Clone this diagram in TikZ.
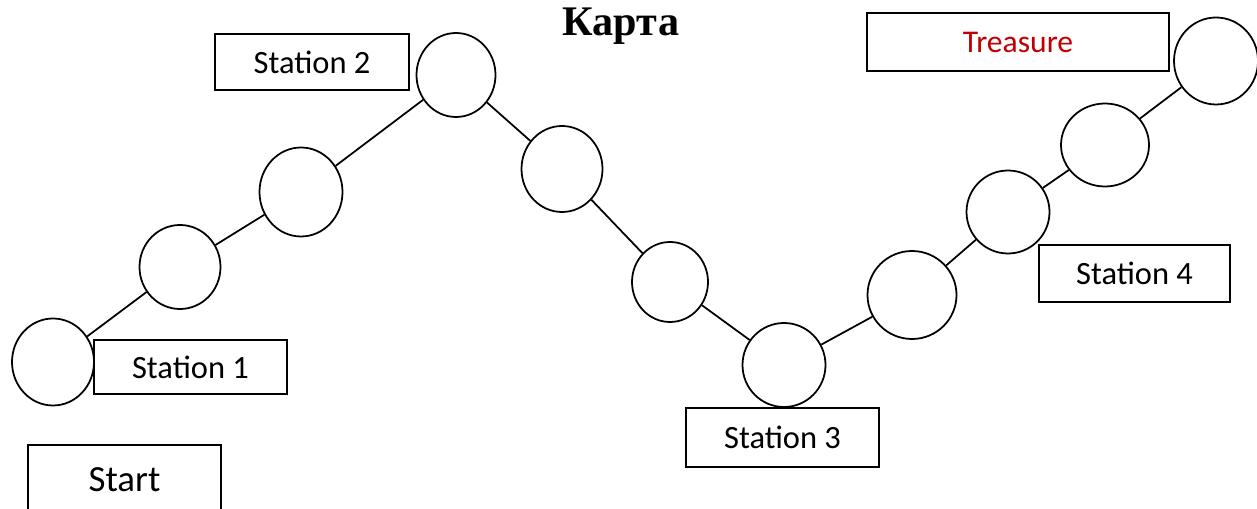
\documentclass[tikz,border=0pt]{standalone}
\usepackage{fontspec}
\setmainfont{Carlito}
\newfontfamily\titlefont{Liberation Serif}
\usetikzlibrary{shapes.geometric}
\definecolor{treasurered}{RGB}{192,0,0}

\tikzset{
  stop/.style 2 args={ellipse, draw, line width=1pt, inner sep=0pt, minimum width=#1*0.02cm, minimum height=#2*0.02cm},
  label box/.style 2 args={rectangle, draw, line width=0.9pt, inner sep=0pt, minimum width=#1*0.02cm, minimum height=#2*0.02cm, font=\fontsize{18.5}{22}\selectfont}
}

\begin{document}
\begin{tikzpicture}[x=0.02cm,y=-0.02cm]
\useasboundingbox (0,0) rectangle (1257,509);

\node[font=\titlefont\fontsize{24}{28}\selectfont\bfseries] (title) at (621,26) {Карта};

% stops along the path
\node[stop={82}{87}] (s1) at (53,362) {};
\node[stop={81}{84}] (s2) at (180,267) {};
\node[stop={83}{89}] (s3) at (301,192) {};
\node[stop={79}{84}] (s4) at (456,75) {};
\node[stop={81}{86}] (s5) at (562,169) {};
\node[stop={76}{80}] (s6) at (670,282) {};
\node[stop={83}{84}] (s7) at (784,365) {};
\node[stop={89}{88}] (s8) at (912,295) {};
\node[stop={83}{83}] (s9) at (1008,212) {};
\node[stop={88}{83}] (s10) at (1105,145) {};
\node[stop={84}{87}] (s11) at (1216,61) {};

\foreach \a/\b in {s1/s2,s2/s3,s3/s4,s4/s5,s5/s6,s6/s7,s7/s8,s8/s9,s9/s10,s10/s11}
  \draw[line width=1pt] (\a) -- (\b);

% labels
\node[label box={193}{54}] (station1) at (190.5,367) {Station 1};
\node[label box={194}{56}] (station2) at (312,62) {Station 2};
\node[label box={193}{59}] (station3) at (782.5,437.5) {Station 3};
\node[label box={191}{57}] (station4) at (1134.5,273.5) {Station 4};
\node[label box={302}{58}, text=treasurered, font=\fontsize{18}{21}\selectfont] (treasure) at (1018,42) {Treasure};
\node[label box={193}{70}, font=\fontsize{21}{24}\selectfont] (start) at (124.5,480) {Start};
\end{tikzpicture}
\end{document}
